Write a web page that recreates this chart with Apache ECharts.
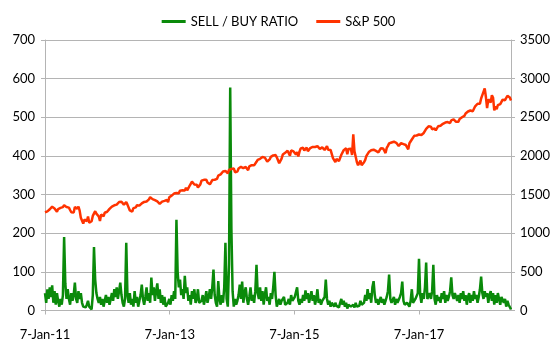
<!DOCTYPE html>
<html>
<head>
<meta charset="utf-8">
<script src="https://cdn.jsdelivr.net/npm/echarts@6/dist/echarts.min.js"></script>
<style>
html,body{margin:0;padding:0;background:#fff;}
#chart{width:557px;height:356px;}
</style>
</head>
<body>
<div id="chart"></div>
<script>
// Weekly observations (Fridays) starting 7-Jan-2011
var startDate = [2011, 0, 7];
var seriesNames = ['SELL / BUY RATIO', 'S&P 500'];
var xTickLabelsEvery = 2; // years

var sellBuy = [
  45, 20, 55, 30, 60, 35, 65, 20, 50, 15,
  45, 25, 10, 30, 15, 40, 190, 70, 30, 55,
  30, 15, 45, 25, 40, 72, 30, 20, 50, 30,
  45, 20, 10, 5, 8, 15, 25, 10, 5, 3,
  40, 164, 80, 45, 30, 20, 35, 15, 30, 10,
  25, 40, 20, 35, 15, 30, 45, 25, 55, 35,
  60, 30, 50, 72, 40, 20, 10, 30, 175, 40,
  20, 45, 15, 30, 10, 50, 20, 35, 10, 25,
  40, 67, 30, 15, 35, 60, 25, 45, 20, 85,
  40, 60, 25, 50, 70, 30, 55, 20, 40, 15,
  35, 10, 5, 20, 30, 15, 40, 25, 50, 30,
  235, 100, 60, 80, 40, 55, 30, 90, 45, 60,
  25, 40, 15, 50, 30, 55, 20, 30, 55, 20,
  15, 25, 40, 15, 30, 50, 20, 35, 55, 30,
  60, 106, 40, 20, 10, 76, 30, 15, 40, 20,
  60, 175, 30, 10, 120, 577, 210, 50, 10, 30,
  15, 25, 40, 67, 30, 75, 20, 45, 60, 30,
  15, 35, 60, 25, 40, 20, 50, 118, 45, 30,
  60, 25, 50, 15, 40, 60, 25, 35, 15, 45,
  30, 60, 100, 40, 10, 20, 30, 15, 25, 20,
  35, 15, 10, 20, 30, 15, 40, 25, 20, 35,
  30, 60, 25, 15, 30, 20, 40, 25, 52, 30,
  45, 20, 35, 50, 25, 40, 15, 30, 55, 20,
  30, 15, 25, 20, 35, 80, 30, 15, 25, 10,
  20, 15, 10, 20, 12, 15, 8, 20, 30, 15,
  25, 10, 20, 5, 15, 12, 10, 5, 15, 8,
  20, 10, 5, 12, 25, 15, 10, 20, 40, 25,
  55, 30, 45, 20, 60, 76, 40, 20, 30, 15,
  25, 35, 20, 30, 15, 25, 35, 50, 93, 30,
  20, 25, 35, 15, 30, 20, 25, 35, 45, 75,
  25, 15, 10, 20, 15, 10, 25, 55, 20, 15,
  30, 25, 45, 134, 40, 20, 45, 30, 60, 124,
  30, 25, 45, 30, 50, 118, 30, 15, 40, 25,
  35, 20, 45, 30, 50, 20, 40, 25, 35, 50,
  86, 40, 30, 45, 35, 25, 40, 20, 45, 30,
  50, 25, 40, 15, 35, 45, 20, 40, 25, 50,
  30, 40, 20, 35, 55, 88, 45, 30, 50, 35,
  45, 20, 40, 50, 25, 45, 15, 40, 20, 45,
  30, 15, 35, 40, 20, 30, 10, 25, 15, 10,
  3
];

var sp2011 = [1271,1293,1283,1276, 1310,1329,1343,1320, 1321,1304,1279,1313, 1332,1328,1320,1337,1364,
  1340,1338,1333,1331, 1300,1271,1271,1268, 1340,1344,1316,1346,1292, 1199,1178,1124,1177,
  1174,1154,1216,1136,1131, 1155,1224,1238,1285, 1253,1263,1216,1159, 1244,1255,1219,1265,1258];
var sp2012 = [1278,1289,1315,1316, 1345,1343,1361,1366, 1370,1371,1404,1397,1408, 1398,1370,1378,1403,
  1370,1353,1295,1318, 1278,1325,1343,1335,1362, 1355,1357,1363,1386, 1391,1405,1418,1411,1407,
  1438,1466,1460,1441, 1461,1428,1433,1411, 1414,1380,1359,1409,1416, 1418,1413,1430,1402];
var sp2013 = [1466,1472,1486,1503, 1513,1518,1520,1516, 1518,1551,1561,1556,1569, 1553,1588,1555,1582,
  1614,1634,1667,1650,1631, 1643,1626,1593,1606, 1632,1680,1692,1691, 1710,1691,1655,1664,1633,
  1655,1688,1710,1692, 1690,1704,1745,1760, 1762,1771,1798,1805,1806, 1805,1775,1819,1842];
var sp2014 = [1831,1842,1838,1790,1783, 1797,1838,1836,1859, 1878,1841,1866,1857, 1865,1815,1864,1863,
  1881,1878,1878,1900,1924, 1950,1936,1963,1961, 1985,1968,1978,1978, 1925,1932,1955,1988,2003,
  2007,1985,2011,1982, 1968,1906,1887,1965,2018, 2032,2040,2064,2068, 2075,2003,2071,2089];
var sp2015 = [2058,2045,2019,2051,1995, 2055,2097,2110,2105, 2071,2053,2108,2061, 2067,2102,2081,2117,
  2108,2116,2123,2126,2107, 2092,2094,2110,2102, 2077,2077,2127,2080,2104, 2078,2092,1971,1989,
  1921,1961,1958,1932, 1951,2015,2033,2075,2079, 2099,2023,2089,2090, 2092,2012,2280,2061];
var sp2016 = [2044,1922,1880,1907,1940, 1880,1865,1918,1948, 2000,2022,2050,2036, 2073,2048,2081,2092,2065,
  2058,2047,2052,2099, 2099,2096,2071,2037, 2103,2130,2162,2175,2174, 2183,2184,2184,2169,
  2180,2128,2139,2165,2168, 2153,2133,2141,2126, 2085,2164,2182,2213, 2192,2260,2258,2264,2239];
var sp2017 = [2277,2275,2271,2295, 2297,2316,2351,2367, 2383,2373,2378,2344,2363, 2356,2329,2349,2384,
  2399,2391,2382,2416, 2439,2432,2433,2438,2423, 2425,2459,2473,2472, 2477,2441,2426,2443,
  2477,2461,2500,2502,2519, 2549,2553,2575,2581, 2588,2582,2579,2603, 2642,2652,2675,2683,2674];
var sp2018 = [2743,2786,2810,2873, 2762,2620,2732,2747, 2691,2786,2752,2588,2641, 2604,2656,2670,2670,
  2663,2728,2713,2721, 2735,2779,2780,2755,2718];

var sp500 = [].concat(sp2011, sp2012, sp2013, sp2014, sp2015, sp2016, sp2017, sp2018);

var leftTicks = {min: 0, max: 700, interval: 100};
var rightTicks = {min: 0, max: 3500, interval: 500};

var DAY = 86400000;
var t0 = Date.UTC(startDate[0], startDate[1], startDate[2]);
var weekDays = sellBuy.map(function (_, i) { return i * 7; });
var lastDay = weekDays[weekDays.length - 1];
var months = ['Jan','Feb','Mar','Apr','May','Jun','Jul','Aug','Sep','Oct','Nov','Dec'];
function fmtDay(d) {
  var dt = new Date(t0 + Math.round(d) * DAY);
  return dt.getUTCDate() + '-' + months[dt.getUTCMonth()] + '-' + String(dt.getUTCFullYear()).slice(2);
}
var twoYears = 365.25 * xTickLabelsEvery;

var chart = echarts.init(document.getElementById('chart'), null, {renderer: 'canvas'});
var FONT = 'Lato';
var GRID = '#b4b4b4';
chart.setOption({
  animation: false,
  backgroundColor: '#ffffff',
  legend: {
    top: 10,
    left: 'center',
    icon: 'rect',
    itemWidth: 24,
    itemHeight: 3,
    itemGap: 18,
    textStyle: {fontFamily: FONT, fontSize: 13, color: '#000'},
    data: seriesNames
  },
  grid: {left: 45, right: 46, top: 40, bottom: 45.5, containLabel: false},
  xAxis: {
    type: 'value',
    min: 0,
    max: lastDay,
    interval: twoYears,
    axisLine: {show: true, lineStyle: {color: GRID, width: 1}},
    axisTick: {show: true, length: 4, lineStyle: {color: GRID}},
    splitLine: {show: false},
    axisLabel: {
      fontFamily: FONT, fontSize: 13, color: '#000', margin: 18,
      showMaxLabel: false,
      formatter: function (v) {
        var k = v / twoYears;
        if (Math.abs(k - Math.round(k)) > 1e-6) return '';
        return fmtDay(v);
      }
    }
  },
  yAxis: [
    {
      type: 'value', position: 'left',
      min: leftTicks.min, max: leftTicks.max, interval: leftTicks.interval,
      axisLine: {show: true, lineStyle: {color: GRID}},
      axisTick: {show: true, length: 4, lineStyle: {color: GRID}},
      splitLine: {show: true, lineStyle: {color: GRID, width: 1}},
      axisLabel: {fontFamily: FONT, fontSize: 13, color: '#000', margin: 10,
        formatter: function (v) { return String(v); }}
    },
    {
      type: 'value', position: 'right',
      min: rightTicks.min, max: rightTicks.max, interval: rightTicks.interval,
      axisLine: {show: true, lineStyle: {color: GRID}},
      axisTick: {show: true, length: 4, lineStyle: {color: GRID}},
      splitLine: {show: false},
      axisLabel: {fontFamily: FONT, fontSize: 13, color: '#000', margin: 9,
        formatter: function (v) { return String(v); }}
    }
  ],
  series: [
    {
      name: seriesNames[0], type: 'line', yAxisIndex: 0,
      showSymbol: false, symbol: 'none',
      lineStyle: {color: '#0a8a0a', width: 2.5},
      itemStyle: {color: '#0a8a0a'},
      data: sellBuy.map(function (v, i) { return [weekDays[i], v]; })
    },
    {
      name: seriesNames[1], type: 'line', yAxisIndex: 1,
      showSymbol: false, symbol: 'none',
      lineStyle: {color: '#ff3300', width: 2.5},
      itemStyle: {color: '#ff3300'},
      data: sp500.map(function (v, i) { return [weekDays[i], v]; })
    }
  ]
});
</script>
</body>
</html>
